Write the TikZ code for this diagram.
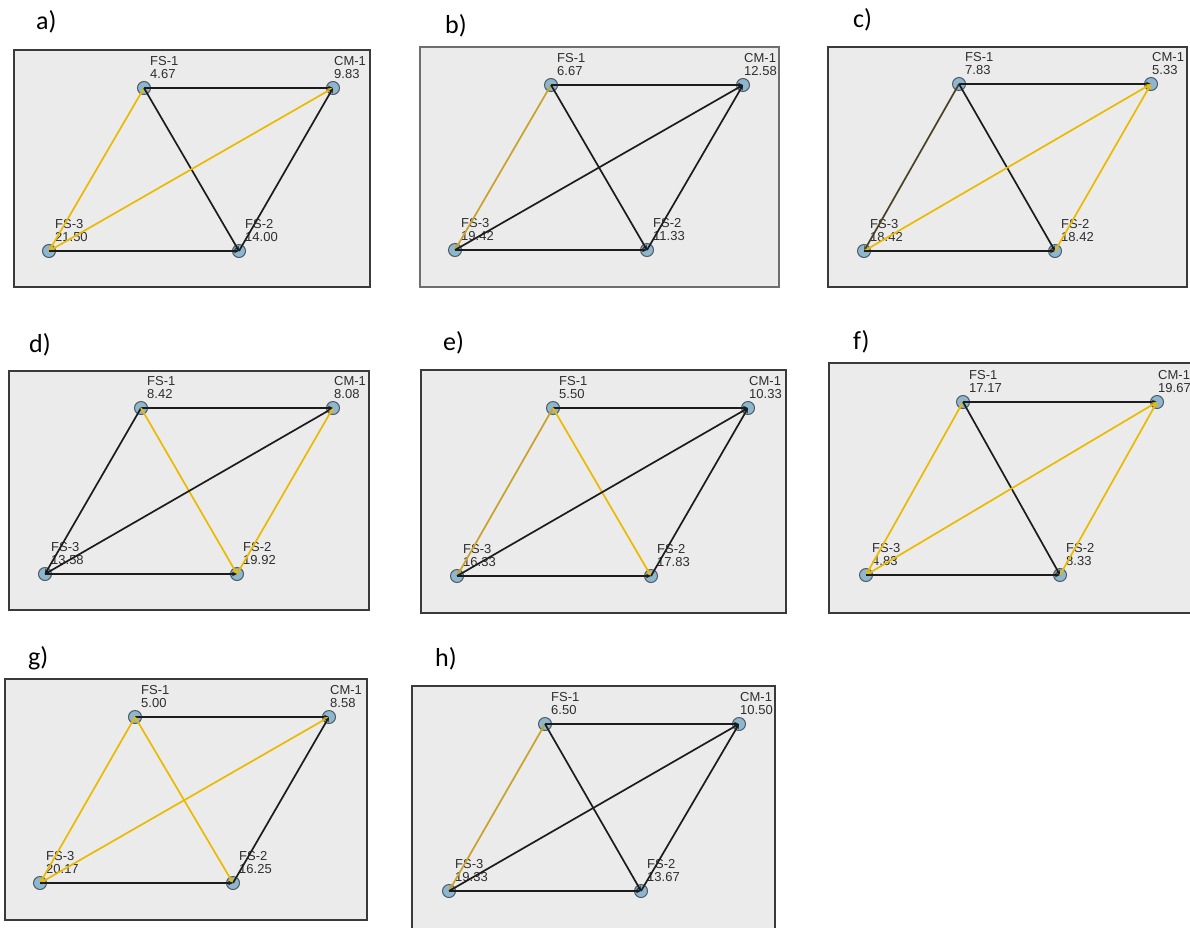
\documentclass[tikz,border=0pt]{standalone}
\usepackage{fontspec}
\setmainfont{Liberation Sans}
\newfontfamily\tagfont{Carlito}
\definecolor{panelgray}{HTML}{EBEBEB}
\definecolor{framedark}{HTML}{3A3A3A}
\definecolor{framesoft}{HTML}{6E6E6E}
\definecolor{hubblue}{HTML}{8DB6CF}
\definecolor{hubrim}{HTML}{4F5A60}
\definecolor{linkgold}{HTML}{EBBA00}
\definecolor{linkdkgold}{HTML}{C9A22A}
\definecolor{linkolive}{HTML}{4B4225}
\definecolor{linkblack}{HTML}{1C1C1C}
\definecolor{labelgray}{HTML}{2E2E2E}
\usetikzlibrary{positioning, arrows.meta}

\begin{document}
\begin{tikzpicture}[
    x=1pt, y=-1pt,
    >={Stealth[length=5pt, width=4.5pt]},
    panel/.style={draw=framedark, fill=panelgray, line width=1.2pt},
    hub/.style={
      circle, minimum size=13pt, inner sep=0pt,
      draw=hubrim, fill=hubblue, line width=1pt,
    },
    val/.style={
      font=\fontsize{13}{13}\selectfont,
      text=labelgray, align=left, inner sep=0pt,
    },
    tag/.style={font=\tagfont\fontsize{26}{28}\selectfont, anchor=west, inner sep=0pt},
    link/.style={->, draw=#1, line width=1.7pt},
    link/.default=linkblack,
  ]
  \useasboundingbox (0,0) rectangle (1190,927);
  \clip (0,0) rectangle (1190,927);

  % a)
  \node[tag] (a-tag) at (36,22) {a)};
  \draw[panel] (14,50) rectangle (370,287);
  \node[hub] (a-fs1) at (144,88) {};
  \node[hub] (a-cm1) at (333,88) {};
  \node[hub] (a-fs3) at (49,251) {};
  \node[hub] (a-fs2) at (239,251) {};
  \node[val, above right=9pt and 6pt of a-fs1.center] (a-fs1-v) {FS-1\\4.67};
  \node[val, above right=9pt and 1pt of a-cm1.center] (a-cm1-v) {CM-1\\9.83};
  \node[val, above right=9pt and 6pt of a-fs3.center] (a-fs3-v) {FS-3\\21.50};
  \node[val, above right=9pt and 6pt of a-fs2.center] (a-fs2-v) {FS-2\\14.00};
  \draw[link] (a-fs1.center) -- (a-cm1.center);
  \draw[link=linkgold] (a-fs1.center) -- (a-fs3.center);
  \draw[link] (a-fs1.center) -- (a-fs2.center);
  \draw[link=linkgold] (a-fs3.center) -- (a-cm1.center);
  \draw[link] (a-fs2.center) -- (a-cm1.center);
  \draw[link] (a-fs3.center) -- (a-fs2.center);

  % b)
  \node[tag] (b-tag) at (445,26) {b)};
  \draw[panel, draw=framesoft, line width=1.5pt] (420,47) rectangle (779,287);
  \node[hub] (b-fs1) at (551,85) {};
  \node[hub] (b-cm1) at (743,85) {};
  \node[hub] (b-fs3) at (455,250) {};
  \node[hub] (b-fs2) at (647,250) {};
  \node[val, above right=9pt and 6pt of b-fs1.center] (b-fs1-v) {FS-1\\6.67};
  \node[val, above right=9pt and 1pt of b-cm1.center] (b-cm1-v) {CM-1\\12.58};
  \node[val, above right=9pt and 6pt of b-fs3.center] (b-fs3-v) {FS-3\\19.42};
  \node[val, above right=9pt and 6pt of b-fs2.center] (b-fs2-v) {FS-2\\11.33};
  \draw[link] (b-fs1.center) -- (b-cm1.center);
  \draw[link=linkdkgold] (b-fs1.center) -- (b-fs3.center);
  \draw[link] (b-fs1.center) -- (b-fs2.center);
  \draw[link] (b-fs3.center) -- (b-cm1.center);
  \draw[link] (b-fs2.center) -- (b-cm1.center);
  \draw[link] (b-fs3.center) -- (b-fs2.center);

  % c)
  \node[tag] (c-tag) at (853,20) {c)};
  \draw[panel] (828,47) rectangle (1187,287);
  \node[hub] (c-fs1) at (959,84) {};
  \node[hub] (c-cm1) at (1151,84) {};
  \node[hub] (c-fs3) at (864,251) {};
  \node[hub] (c-fs2) at (1055,251) {};
  \node[val, above right=9pt and 6pt of c-fs1.center] (c-fs1-v) {FS-1\\7.83};
  \node[val, above right=9pt and 1pt of c-cm1.center] (c-cm1-v) {CM-1\\5.33};
  \node[val, above right=9pt and 6pt of c-fs3.center] (c-fs3-v) {FS-3\\18.42};
  \node[val, above right=9pt and 6pt of c-fs2.center] (c-fs2-v) {FS-2\\18.42};
  \draw[link] (c-fs1.center) -- (c-cm1.center);
  \draw[link=linkolive] (c-fs1.center) -- (c-fs3.center);
  \draw[link] (c-fs1.center) -- (c-fs2.center);
  \draw[link=linkgold] (c-fs3.center) -- (c-cm1.center);
  \draw[link=linkgold] (c-fs2.center) -- (c-cm1.center);
  \draw[link] (c-fs3.center) -- (c-fs2.center);

  % d)
  \node[tag] (d-tag) at (29,345) {d)};
  \draw[panel] (9,371) rectangle (369,610);
  \node[hub] (d-fs1) at (141,408) {};
  \node[hub] (d-cm1) at (333,408) {};
  \node[hub] (d-fs3) at (45,574) {};
  \node[hub] (d-fs2) at (237,574) {};
  \node[val, above right=9pt and 6pt of d-fs1.center] (d-fs1-v) {FS-1\\8.42};
  \node[val, above right=9pt and 1pt of d-cm1.center] (d-cm1-v) {CM-1\\8.08};
  \node[val, above right=9pt and 6pt of d-fs3.center] (d-fs3-v) {FS-3\\13.58};
  \node[val, above right=9pt and 6pt of d-fs2.center] (d-fs2-v) {FS-2\\19.92};
  \draw[link] (d-fs1.center) -- (d-cm1.center);
  \draw[link] (d-fs1.center) -- (d-fs3.center);
  \draw[link=linkgold] (d-fs1.center) -- (d-fs2.center);
  \draw[link] (d-fs3.center) -- (d-cm1.center);
  \draw[link=linkgold] (d-fs2.center) -- (d-cm1.center);
  \draw[link] (d-fs3.center) -- (d-fs2.center);

  % e)
  \node[tag] (e-tag) at (443,343) {e)};
  \draw[panel] (421,370) rectangle (786,613);
  \node[hub] (e-fs1) at (553,408) {};
  \node[hub] (e-cm1) at (748,408) {};
  \node[hub] (e-fs3) at (457,576) {};
  \node[hub] (e-fs2) at (651,576) {};
  \node[val, above right=9pt and 6pt of e-fs1.center] (e-fs1-v) {FS-1\\5.50};
  \node[val, above right=9pt and 1pt of e-cm1.center] (e-cm1-v) {CM-1\\10.33};
  \node[val, above right=9pt and 6pt of e-fs3.center] (e-fs3-v) {FS-3\\16.33};
  \node[val, above right=9pt and 6pt of e-fs2.center] (e-fs2-v) {FS-2\\17.83};
  \draw[link] (e-fs1.center) -- (e-cm1.center);
  \draw[link=linkdkgold] (e-fs1.center) -- (e-fs3.center);
  \draw[link=linkgold] (e-fs1.center) -- (e-fs2.center);
  \draw[link] (e-fs3.center) -- (e-cm1.center);
  \draw[link] (e-fs2.center) -- (e-cm1.center);
  \draw[link] (e-fs3.center) -- (e-fs2.center);

  % f)
  \node[tag] (f-tag) at (853,342) {f)};
  \draw[panel] (829,363) rectangle (1196,613);
  \node[hub] (f-fs1) at (963,402) {};
  \node[hub] (f-cm1) at (1157,402) {};
  \node[hub] (f-fs3) at (866,575) {};
  \node[hub] (f-fs2) at (1060,575) {};
  \node[val, above right=9pt and 6pt of f-fs1.center] (f-fs1-v) {FS-1\\17.17};
  \node[val, above right=9pt and 1pt of f-cm1.center] (f-cm1-v) {CM-1\\19.67};
  \node[val, above right=9pt and 6pt of f-fs3.center] (f-fs3-v) {FS-3\\4.83};
  \node[val, above right=9pt and 6pt of f-fs2.center] (f-fs2-v) {FS-2\\8.33};
  \draw[link] (f-fs1.center) -- (f-cm1.center);
  \draw[link=linkgold] (f-fs1.center) -- (f-fs3.center);
  \draw[link] (f-fs1.center) -- (f-fs2.center);
  \draw[link=linkgold] (f-fs3.center) -- (f-cm1.center);
  \draw[link=linkgold] (f-fs2.center) -- (f-cm1.center);
  \draw[link] (f-fs3.center) -- (f-fs2.center);

  % g)
  \node[tag] (g-tag) at (28,658) {g)};
  \draw[panel] (5,679) rectangle (367,920);
  \node[hub] (g-fs1) at (135,717) {};
  \node[hub] (g-cm1) at (329,717) {};
  \node[hub] (g-fs3) at (40,883) {};
  \node[hub] (g-fs2) at (233,883) {};
  \node[val, above right=9pt and 6pt of g-fs1.center] (g-fs1-v) {FS-1\\5.00};
  \node[val, above right=9pt and 1pt of g-cm1.center] (g-cm1-v) {CM-1\\8.58};
  \node[val, above right=9pt and 6pt of g-fs3.center] (g-fs3-v) {FS-3\\20.17};
  \node[val, above right=9pt and 6pt of g-fs2.center] (g-fs2-v) {FS-2\\16.25};
  \draw[link] (g-fs1.center) -- (g-cm1.center);
  \draw[link=linkgold] (g-fs1.center) -- (g-fs3.center);
  \draw[link=linkgold] (g-fs1.center) -- (g-fs2.center);
  \draw[link=linkgold] (g-fs3.center) -- (g-cm1.center);
  \draw[link] (g-fs2.center) -- (g-cm1.center);
  \draw[link] (g-fs3.center) -- (g-fs2.center);

  % h)
  \node[tag] (h-tag) at (435,659) {h)};
  \draw[panel] (412,686) rectangle (775,935);
  \node[hub] (h-fs1) at (545,724) {};
  \node[hub] (h-cm1) at (739,724) {};
  \node[hub] (h-fs3) at (449,891) {};
  \node[hub] (h-fs2) at (641,891) {};
  \node[val, above right=9pt and 6pt of h-fs1.center] (h-fs1-v) {FS-1\\6.50};
  \node[val, above right=9pt and 1pt of h-cm1.center] (h-cm1-v) {CM-1\\10.50};
  \node[val, above right=9pt and 6pt of h-fs3.center] (h-fs3-v) {FS-3\\19.33};
  \node[val, above right=9pt and 6pt of h-fs2.center] (h-fs2-v) {FS-2\\13.67};
  \draw[link] (h-fs1.center) -- (h-cm1.center);
  \draw[link=linkdkgold] (h-fs1.center) -- (h-fs3.center);
  \draw[link] (h-fs1.center) -- (h-fs2.center);
  \draw[link] (h-fs3.center) -- (h-cm1.center);
  \draw[link] (h-fs2.center) -- (h-cm1.center);
  \draw[link] (h-fs3.center) -- (h-fs2.center);
\end{tikzpicture}
\end{document}
